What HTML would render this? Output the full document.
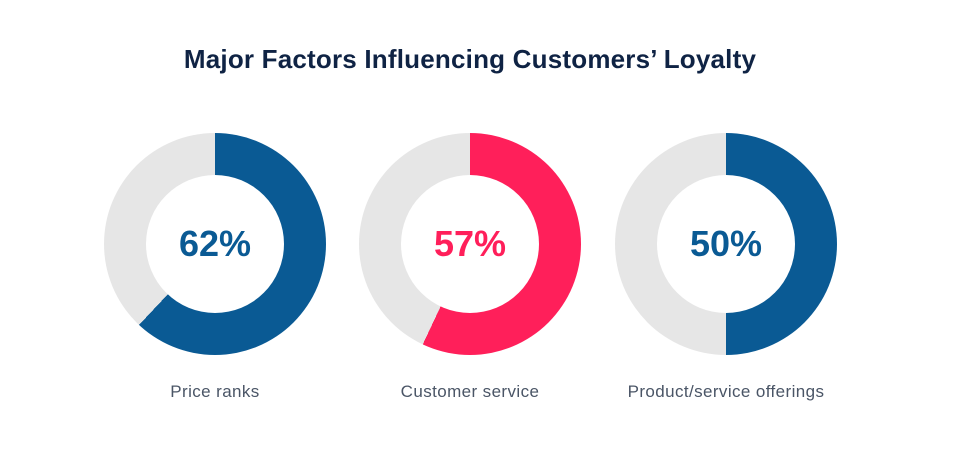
<!DOCTYPE html>
<html><head><style>
body{margin:0;width:962px;height:455px;background:#fff;font-family:"Liberation Sans",sans-serif;position:relative;overflow:hidden}
.t{position:absolute;top:44px;left:0;width:940px;text-align:center;font-weight:bold;font-size:26px;color:#0f2344;letter-spacing:0.2px}
.d{position:absolute;top:133px;width:222px;height:222px;border-radius:50%}
.d .i{position:absolute;left:42px;top:42px;width:138px;height:138px;border-radius:50%;background:#fff;text-align:center;line-height:138px;font-weight:bold;font-size:36px}
.l{position:absolute;top:382px;width:300px;text-align:center;font-size:17px;letter-spacing:0.4px;color:#4a5566}
</style></head><body>
<div class="t">Major Factors Influencing Customers’ Loyalty</div>
<div class="d" style="left:104px;background:conic-gradient(#0a5a94 0 62%,#e6e6e6 62% 100%)"><div class="i" style="color:#0a5a94">62%</div></div>
<div class="d" style="left:359px;background:conic-gradient(#ff1f5a 0 57%,#e6e6e6 57% 100%)"><div class="i" style="color:#ff1f5a">57%</div></div>
<div class="d" style="left:615px;background:conic-gradient(#0a5a94 0 50%,#e6e6e6 50% 100%)"><div class="i" style="color:#0a5a94">50%</div></div>
<div class="l" style="left:65px">Price ranks</div>
<div class="l" style="left:320px">Customer service</div>
<div class="l" style="left:576px">Product/service offerings</div>
</body></html>
